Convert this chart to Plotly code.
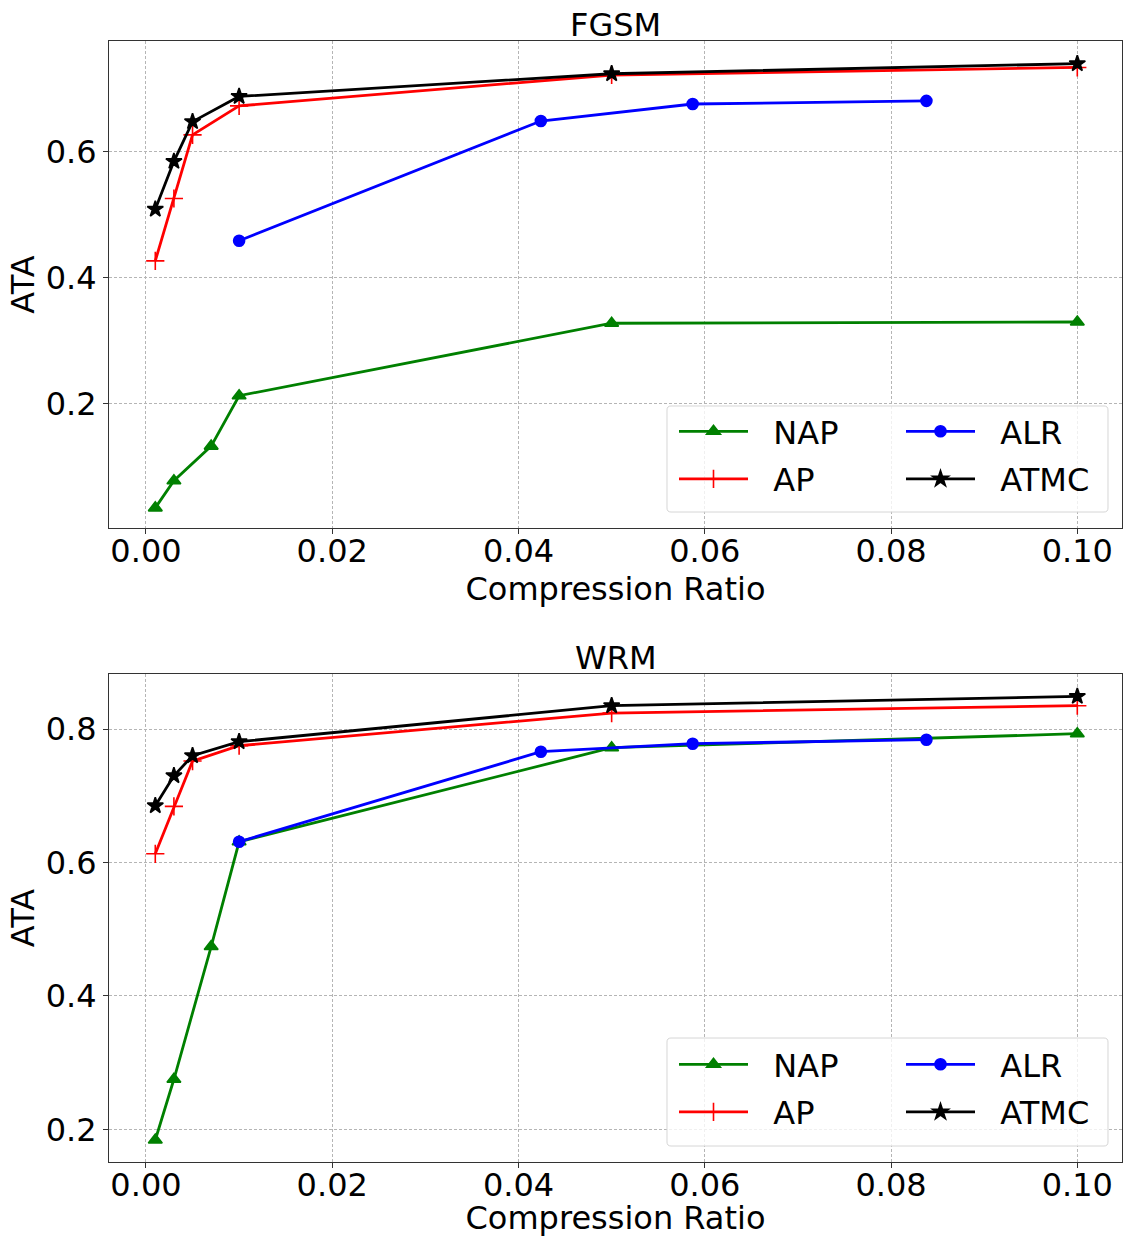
import plotly.graph_objects as go

# ---- data ----
nap_x = [0.001, 0.003, 0.007, 0.01, 0.05, 0.1]
ap_x = [0.001, 0.003, 0.005, 0.01, 0.05, 0.1]
alr_x = [0.01, 0.0424, 0.0587, 0.0838]
atmc_x = [0.001, 0.003, 0.005, 0.01, 0.05, 0.1]

fgsm_nap = [0.035, 0.078, 0.133, 0.213, 0.328, 0.330]
fgsm_ap = [0.427, 0.526, 0.627, 0.673, 0.722, 0.734]
fgsm_alr = [0.459, 0.649, 0.676, 0.681]
fgsm_atmc = [0.509, 0.585, 0.648, 0.688, 0.724, 0.740]

wrm_nap = [0.184, 0.275, 0.474, 0.631, 0.772, 0.793]
wrm_ap = [0.613, 0.684, 0.752, 0.775, 0.824, 0.835]
wrm_alr = [0.631, 0.766, 0.778, 0.784]
wrm_atmc = [0.685, 0.730, 0.760, 0.781, 0.835, 0.849]

titles = ["FGSM", "WRM"]
x_ticks = [0.00, 0.02, 0.04, 0.06, 0.08, 0.10]
x_ticklabels = ["0.00", "0.02", "0.04", "0.06", "0.08", "0.10"]
fgsm_yticks = [0.2, 0.4, 0.6]
fgsm_yticklabels = ["0.2", "0.4", "0.6"]
wrm_yticks = [0.2, 0.4, 0.6, 0.8]
wrm_yticklabels = ["0.2", "0.4", "0.6", "0.8"]

FONT = "DejaVu Sans"
FS = 32

W, H = 1124, 1237
fig = go.Figure()

# name, color, symbol, marker size, legend column (0 or 1)
series_style = [
    ("NAP", "green", "triangle-up", 12, 0),
    ("AP", "red", "cross-thin", 13, 0),
    ("ALR", "blue", "circle", 11, 1),
    ("ATMC", "black", "star", 12, 1),
]

NBSP = "\u00a0\u00a0"

def add_panel(xs, ys, xaxis, yaxis, legends):
    for (name, color, sym, ms, col), x, y in zip(series_style, xs, ys):
        fig.add_trace(go.Scatter(
            x=x, y=y, mode="lines+markers", name=NBSP + name,
            line=dict(color=color, width=2.8),
            marker=dict(symbol=sym, size=ms, color=color,
                        line=dict(color=color, width=1.6)),
            xaxis=xaxis, yaxis=yaxis, legend=legends[col],
            legendgroup=xaxis + name,
        ))

add_panel([nap_x, ap_x, alr_x, atmc_x], [fgsm_nap, fgsm_ap, fgsm_alr, fgsm_atmc],
          "x", "y", ["legend", "legend2"])
add_panel([nap_x, ap_x, alr_x, atmc_x], [wrm_nap, wrm_ap, wrm_alr, wrm_atmc],
          "x2", "y2", ["legend3", "legend4"])

xdom = [109 / W, 1122 / W]
ydom_top = [1 - 528 / H, 1 - 41 / H]
ydom_bot = [1 - 1162 / H, 1 - 674 / H]

axis_common = dict(
    showline=True, mirror=True, linecolor="#333333", linewidth=1,
    showgrid=True, gridcolor="#b5b5b5", griddash="3px,2px", gridwidth=0.8,
    ticks="outside", ticklen=5, tickcolor="#333333",
    tickfont=dict(family=FONT, size=FS, color="black"),
    zeroline=False,
)

xaxis_common = dict(axis_common, range=[-0.00397, 0.1048], tickvals=x_ticks,
                    ticktext=x_ticklabels, ticklabelstandoff=-10,
                    title=dict(text="Compression Ratio",
                               font=dict(family=FONT, size=FS, color="black"), standoff=0))

def legend_box(x_left, y_top):
    return dict(
        orientation="v", x=x_left / W, xanchor="left", y=1 - y_top / H, yanchor="top",
        font=dict(family=FONT, size=FS, color="black"),
        bgcolor="rgba(0,0,0,0)", borderwidth=0,
        tracegroupgap=3, itemwidth=69, traceorder="grouped",
    )

LEG_TOP = [404, 1037]
LEG_X = [674, 901]
fig.update_layout(
    width=W, height=H,
    margin=dict(l=0, r=0, t=0, b=0),
    paper_bgcolor="white", plot_bgcolor="white",
    showlegend=True,
    xaxis=dict(xaxis_common, domain=xdom, anchor="y"),
    yaxis=dict(axis_common, domain=ydom_top, anchor="x", range=[0.003, 0.776],
               tickvals=fgsm_yticks, ticktext=fgsm_yticklabels,
               title=dict(text="ATA", font=dict(family=FONT, size=FS, color="black"), standoff=1)),
    xaxis2=dict(xaxis_common, domain=xdom, anchor="y2"),
    yaxis2=dict(axis_common, domain=ydom_bot, anchor="x2", range=[0.151, 0.8825],
                tickvals=wrm_yticks, ticktext=wrm_yticklabels,
                title=dict(text="ATA", font=dict(family=FONT, size=FS, color="black"), standoff=1)),
    legend=legend_box(LEG_X[0], LEG_TOP[0]),
    legend2=legend_box(LEG_X[1], LEG_TOP[0]),
    legend3=legend_box(LEG_X[0], LEG_TOP[1]),
    legend4=legend_box(LEG_X[1], LEG_TOP[1]),
)

# legend frames (rounded, translucent white like matplotlib)
def rounded_rect(x0, y0, x1, y1, r=4):
    def P(x, y):
        return f"{x / W:.6f},{1 - y / H:.6f}"
    return (f"M {P(x0 + r, y0)} L {P(x1 - r, y0)} Q {P(x1, y0)} {P(x1, y0 + r)} "
            f"L {P(x1, y1 - r)} Q {P(x1, y1)} {P(x1 - r, y1)} "
            f"L {P(x0 + r, y1)} Q {P(x0, y1)} {P(x0, y1 - r)} "
            f"L {P(x0, y0 + r)} Q {P(x0, y0)} {P(x0 + r, y0)} Z")

for (y0, y1) in [(406, 512), (1038, 1146)]:
    fig.add_shape(type="path", path=rounded_rect(667, y0, 1108, y1), xref="paper", yref="paper",
                  fillcolor="rgba(255,255,255,0.8)", line=dict(color="#d6d6d6", width=1),
                  layer="above")

for i, t in enumerate(titles):
    ytop = ydom_top[1] if i == 0 else ydom_bot[1]
    fig.add_annotation(text=t, xref="paper", yref="paper",
                       x=(xdom[0] + xdom[1]) / 2, y=ytop, yanchor="bottom", yshift=-5,
                       showarrow=False, font=dict(family=FONT, size=FS, color="black"))

fig.write_html("out.html", config={"displayModeBar": False},
               post_script="document.body.style.margin='0';document.body.style.overflow='hidden';")
